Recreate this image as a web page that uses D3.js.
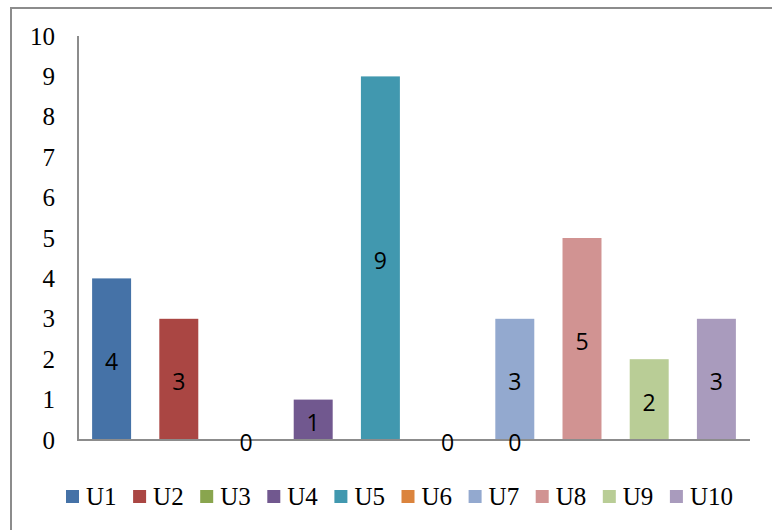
<!DOCTYPE html>
<html>
<head>
<meta charset="utf-8">
<script src="https://cdn.jsdelivr.net/npm/d3@7"></script>
<style>
  html, body { margin: 0; padding: 0; background: #fff; }
</style>
</head>
<body>
<div id="chart"></div>
<script>
// data
const series = ["U1", "U2", "U3", "U4", "U5", "U6", "U7", "U8", "U9", "U10"];
const values = [4, 3, 0, 1, 9, 0, 3, 5, 2, 3];
const colors = ["#4572A7", "#AA4643", "#89A54E", "#71588F", "#4198AF",
                "#DB843D", "#93A9CF", "#D19392", "#B9CD96", "#A99BBD"];
const yTicks = [0, 1, 2, 3, 4, 5, 6, 7, 8, 9, 10];
// stray zero label that sits under U7 in the original
const extraZeroLabels = ["U7"];

const W = 772, H = 530;
const plot = {left: 78, right: 750, top: 36, bottom: 440};
const serif = "Liberation Serif, Times New Roman, serif";

const svg = d3.select("#chart").append("svg")
    .attr("width", W)
    .attr("height", H);

// outer frame (runs off the right / bottom edge)
svg.append("rect")
    .attr("x", 11).attr("y", 8)
    .attr("width", W).attr("height", H)
    .attr("fill", "none")
    .attr("stroke", "#8c8c8c")
    .attr("stroke-width", 2);

const x = d3.scaleBand()
    .domain(series)
    .range([plot.left, plot.right])
    .paddingInner(0.42)
    .paddingOuter(0.21);

const y = d3.scaleLinear()
    .domain([0, 10])
    .range([plot.bottom, plot.top]);

// bars
svg.append("g").selectAll("rect")
    .data(series)
    .join("rect")
    .attr("x", d => x(d))
    .attr("y", (d, i) => y(values[i]))
    .attr("width", x.bandwidth())
    .attr("height", (d, i) => y(0) - y(values[i]))
    .attr("fill", (d, i) => colors[i]);

// y axis labels
const yAxis = d3.axisLeft(y).tickValues(yTicks).tickSize(0).tickPadding(23);
svg.append("g")
    .attr("transform", `translate(${plot.left},0)`)
    .attr("font-family", serif)
    .attr("font-size", 25)
    .call(yAxis)
    .call(g => g.select(".domain").remove())
    .call(g => g.attr("font-family", serif).attr("font-size", 25))
    .selectAll("text")
    .attr("fill", "#000");

// axis lines
svg.append("line")
    .attr("x1", plot.left).attr("x2", plot.left)
    .attr("y1", plot.top).attr("y2", plot.bottom)
    .attr("stroke", "#8c8c8c").attr("stroke-width", 2);
svg.append("line")
    .attr("x1", plot.left - 1).attr("x2", plot.right)
    .attr("y1", plot.bottom).attr("y2", plot.bottom)
    .attr("stroke", "#8c8c8c").attr("stroke-width", 2);

// data labels, centred in each bar
const labelFont = "Open Sans, DejaVu Sans, sans-serif";
const labels = series.map((s, i) => ({s, v: values[i]}))
    .concat(extraZeroLabels.map(s => ({s, v: 0})));
svg.append("g").selectAll("text")
    .data(labels)
    .join("text")
    .attr("x", d => x(d.s) + x.bandwidth() / 2)
    .attr("y", d => (y(d.v) + y(0)) / 2 + 3)
    .attr("dy", "0.35em")
    .attr("text-anchor", "middle")
    .attr("font-family", labelFont)
    .attr("font-size", 23)
    .attr("fill", "#000")
    .text(d => d.v);

// legend
const legend = svg.append("g")
    .attr("transform", "translate(66,490)");
const item = legend.selectAll("g")
    .data(series)
    .join("g")
    .attr("transform", (d, i) => `translate(${i * 67.1},0)`);
item.append("rect")
    .attr("width", 13).attr("height", 13)
    .attr("fill", (d, i) => colors[i]);
item.append("text")
    .attr("x", 20)
    .attr("y", 15)
    .attr("font-family", serif)
    .attr("font-size", 25)
    .attr("fill", "#000")
    .text(d => d);
</script>
</body>
</html>
